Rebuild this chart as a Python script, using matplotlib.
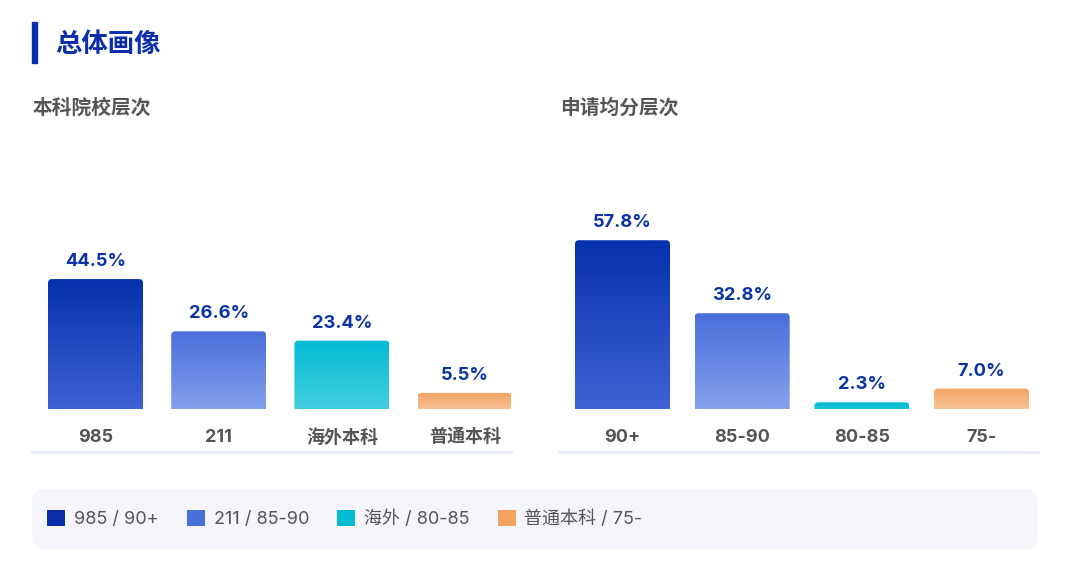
import numpy as np
import matplotlib
matplotlib.use("Agg")
import matplotlib.pyplot as plt
from matplotlib.patches import FancyBboxPatch, Rectangle, Patch
from matplotlib.lines import Line2D
from matplotlib.colors import to_rgba

plt.rcParams['font.family'] = ['Inter', 'Noto Sans CJK SC', 'DejaVu Sans']
CJK = ['Noto Sans CJK SC', 'DejaVu Sans']

# ---------- 数据 ----------
title = "总体画像"
left_title = "本科院校层次"
left_cats = ["985", "211", "海外本科", "普通本科"]
left_vals = [44.5, 26.6, 23.4, 5.5]
right_title = "申请均分层次"
right_cats = ["90+", "85-90", "80-85", "75-"]
right_vals = [57.8, 32.8, 2.3, 7.0]
legend_labels = ["985 / 90+", "211 / 85-90", "海外 / 80-85", "普通本科 / 75-"]

# 渐变色（顶部, 底部）
grad = [("#0631AC", "#4466D8"), ("#4A6EDB", "#8DA7EE"),
        ("#03BCD4", "#4ED1E2"), ("#F3A363", "#FCD6B3")]
legend_colors = ["#0A2FA8", "#4A6FDB", "#00BCD4", "#F4A261"]

W, H = 1080, 572
fig = plt.figure(figsize=(W / 100, H / 100), dpi=100)
fig.patch.set_facecolor("white")

def fx(px):
    return px / W

def fy(py):
    return 1 - py / H

PX_PER_PCT = 2.92
BASE = 409
TOP = 190


def panel(x0, x1, c0, step, cats, vals, sub):
    ax = fig.add_axes([fx(x0), fy(BASE), fx(x1 - x0), (BASE - TOP) / H])
    xlim = ((x0 - c0) / step, (x1 - c0) / step)
    ylim = (0, (BASE - TOP) / PX_PER_PCT)
    bw = 95 / step
    r = 4 / step
    asp = (1 / PX_PER_PCT) / (1 / step)
    for i, v in enumerate(vals):
        top, bot = to_rgba(grad[i][0]), to_rgba(grad[i][1])
        t = np.linspace(0, 1, 100)[:, None]
        img = (1 - t) * np.array(top) + t * np.array(bot)
        img = img[:, None, :]
        im = ax.imshow(img, extent=[i - bw / 2, i + bw / 2, -3 * r * asp, v],
                       aspect="auto", origin="upper", zorder=2)
        clip = FancyBboxPatch((i - bw / 2, -3 * r * asp), bw, v + 3 * r * asp,
                              boxstyle=f"round,pad=0,rounding_size={r}",
                              mutation_aspect=asp, transform=ax.transData)
        im.set_clip_path(clip)
        ax.annotate(f"{v:.1f}%", (i, v), xytext=(0, 12.5), textcoords="offset points",
                    ha="center", va="center", fontsize=13.2, fontweight="bold",
                    color="#0B33A8")
        ax.annotate(cats[i], (i, 0), xytext=(0, -20.8), textcoords="offset points",
                    ha="center", va="center", fontsize=13, fontweight="bold",
                    color="#555555", annotation_clip=False)
    ax.set_xlim(*xlim)
    ax.set_ylim(*ylim)
    ax.axis("off")
    fig.add_artist(Line2D([fx(x0), fx(x1)], [fy(452), fy(452)], transform=fig.transFigure,
                          color="#E6EAF2", lw=2))
    fig.text(fx(x0 + 1), fy(108), sub, fontsize=14.2, fontweight="bold", color="#555555",
             ha="left", va="center", family=CJK)
    return ax


panel(32, 511, 95.5, 123.2, left_cats, left_vals, left_title)
panel(559, 1038, 622.5, 119.7, right_cats, right_vals, right_title)

# 标题
fig.add_artist(Rectangle((fx(32), fy(63)), fx(5), (63 - 22) / H, transform=fig.transFigure,
                         color="#0A2FA8"))
fig.text(fx(55), fy(44), title, fontsize=19, fontweight="bold", color="#0B2FAA",
         ha="left", va="center", family=CJK)

# 图例底框
fig.add_artist(FancyBboxPatch((fx(32), fy(549)), fx(1038 - 32), (549 - 489) / H,
                              boxstyle="round,pad=0,rounding_size=0.012",
                              mutation_aspect=W / H,
                              transform=fig.transFigure, facecolor="#F4F6FB",
                              edgecolor="none", zorder=0))
handles = [Patch(facecolor=c, edgecolor="none") for c in legend_colors]
fs = 13
fpx = fs / 0.72
fig.legend(handles, legend_labels, loc="center left", bbox_to_anchor=(fx(47), fy(519)),
           ncol=4, frameon=False, fontsize=fs, labelcolor="#555555",
           handlelength=18 / fpx, handleheight=18 / fpx, handletextpad=9 / fpx,
           columnspacing=28 / fpx, borderpad=0, borderaxespad=0)

fig.savefig("out.png", dpi=100)
